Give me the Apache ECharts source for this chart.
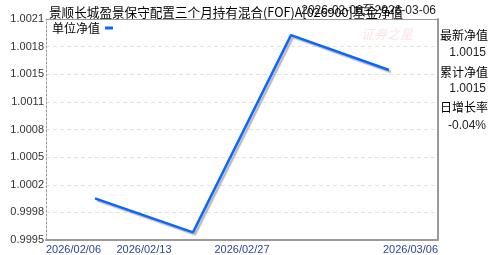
<!DOCTYPE html>
<html>
<head>
<meta charset="utf-8">
<script src="https://cdn.jsdelivr.net/npm/echarts@6/dist/echarts.min.js"></script>
<style>html,body{margin:0;padding:0;background:#fff}#c{width:488px;height:255px}</style>
</head>
<body>
<div id="c"></div>
<script>
var titleText = '景顺长城盈景保守配置三个月持有混合(FOF)A[026900]基金净值';
var dateText = '2026-02-06至2026-03-06';
var seriesName = '单位净值';
var categories = ['2026/02/06', '2026/02/13', '2026/02/27', '2026/03/06'];
var navValues = [0.99999, 0.99959, 1.00191, 1.0015];
var xTickLabels = ['2026/02/06', '2026/02/13', '2026/02/27', '', '2026/03/06'];
var yTickLabels = ['0.9995', '0.9998', '1.0002', '1.0005', '1.0008', '1.0011', '1.0015', '1.0018', '1.0021'];
var sideLabels = ['最新净值', '累计净值', '日增长率'];
var sideValues = ['1.0015', '1.0015', '-0.04%'];

var chart = echarts.init(document.getElementById('c'));
var font = '"Liberation Sans", Arial, "Noto Sans CJK SC", sans-serif';
var graphics = [
  { type: 'text', right: 52, top: 5, style: { text: dateText, font: '12px ' + font, fill: '#222' } },
  { type: 'text', left: 361, top: 28, style: { text: '证券之星', font: 'italic 13px "Noto Sans CJK SC"', fill: 'rgba(235,120,130,0.2)' } }
];
var sideY = [35, 53, 72, 89, 107, 126];
for (var i = 0; i < sideLabels.length; i++) {
  graphics.push({ type: 'text', left: 440, top: sideY[2 * i] - 6, style: { text: sideLabels[i], font: '12px "Noto Sans CJK SC"', fill: '#000' } });
  graphics.push({ type: 'text', right: 2, top: sideY[2 * i + 1] - 6, style: { text: sideValues[i], font: '12px ' + font, fill: '#222', textAlign: 'right' } });
}

chart.setOption({
  animation: false,
  textStyle: { fontFamily: font },
  title: { text: titleText, left: 44, top: 1, textStyle: { fontSize: 12.6, fontWeight: 'normal', color: '#000', fontFamily: '"Noto Sans CJK SC", sans-serif' } },
  legend: {
    data: [seriesName], left: 52, top: 22, align: 'right', icon: 'rect', itemWidth: 8, itemHeight: 3,
    textStyle: { fontSize: 12, color: '#000', fontFamily: '"Noto Sans CJK SC", sans-serif' }, padding: 0
  },
  grid: { left: 46, right: 50, top: 19, bottom: 13, containLabel: false },
  xAxis: [
    { type: 'category', data: categories, boundaryGap: true, position: 'bottom',
      axisLine: { show: false }, axisTick: { show: false }, axisLabel: { show: false }, splitLine: { show: false } },
    { type: 'category', data: xTickLabels, boundaryGap: false, position: 'bottom',
      axisLine: { show: true, lineStyle: { color: '#9a9a9a', width: 2 } }, axisTick: { show: false },
      axisLabel: { interval: 0, margin: 4, fontSize: 11, color: '#30449a', alignMinLabel: 'left', alignMaxLabel: 'right' },
      splitLine: { show: false } },
    { type: 'category', data: xTickLabels, position: 'top',
      axisLine: { show: true, lineStyle: { color: '#9a9a9a', width: 1 } }, axisTick: { show: false }, axisLabel: { show: false } }
  ],
  yAxis: [
    { type: 'value', min: 0.9995, max: 1.0021, interval: 0.000325, position: 'left',
      axisLine: { show: true, lineStyle: { color: '#999', type: [2, 2], width: 1 } }, axisTick: { show: false },
      axisLabel: { fontSize: 11, color: '#333', margin: 2, formatter: function (v, idx) { return yTickLabels[idx]; } },
      splitLine: { show: true, lineStyle: { color: '#e2e2e2', type: [4, 3], width: 1 } } },
    { type: 'value', min: 0.9995, max: 1.0021, interval: 0.000325, position: 'right',
      axisLine: { show: true, lineStyle: { color: '#9a9a9a', width: 2 } }, axisTick: { show: false },
      axisLabel: { show: false }, splitLine: { show: false } }
  ],
  series: [{
    name: seriesName, type: 'line', data: navValues, xAxisIndex: 0, yAxisIndex: 0,
    showSymbol: false, symbol: 'none', color: '#0a66ff',
    lineStyle: { width: 2.5, color: '#0a66ff', shadowColor: 'rgba(0,0,0,0.28)', shadowBlur: 1, shadowOffsetX: 2, shadowOffsetY: 2 }
  }],
  graphic: graphics
});
</script>
</body>
</html>
